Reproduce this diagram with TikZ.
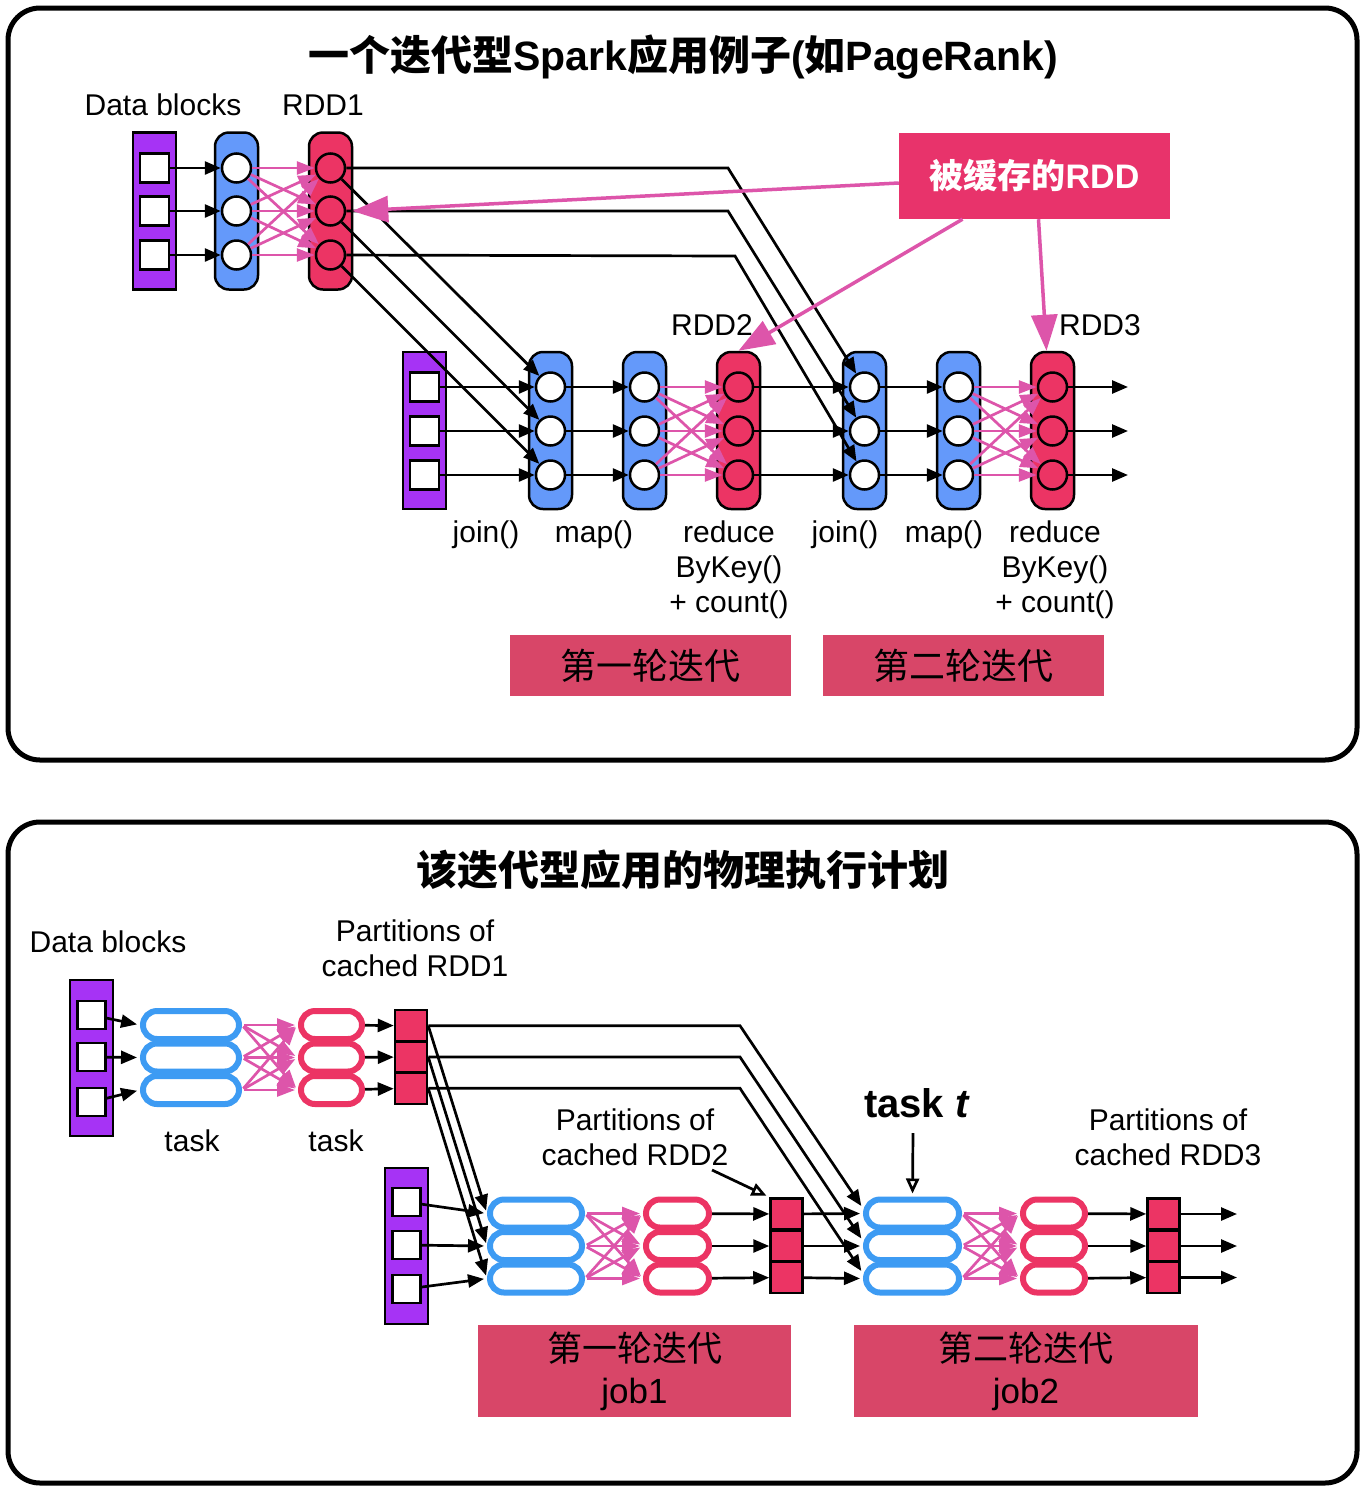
\documentclass[tikz,border=0pt]{standalone}
\usepackage{fontspec}
\setmainfont{Liberation Sans}
\newfontfamily\cjk{Noto Sans CJK SC}
\usetikzlibrary{arrows.meta}
\definecolor{dpurple}{RGB}{166,51,245}
\definecolor{cblue}{RGB}{100,153,250}
\definecolor{cred}{RGB}{236,52,100}
\definecolor{lbox}{RGB}{216,70,104}
\definecolor{cboxc}{RGB}{232,51,107}
\definecolor{pinkarr}{RGB}{221,85,170}
\definecolor{sblue}{RGB}{61,155,243}
\tikzset{
 txt/.style={inner sep=2pt, font=\fontsize{30}{35}\selectfont, align=center},
 colbox/.style={draw, line width=2.5pt, rounded corners=14pt, minimum width=43pt, minimum height=157pt, inner sep=0pt},
 datacol/.style={draw, line width=2.5pt, fill=dpurple, minimum width=43pt, minimum height=157pt, inner sep=0pt},
 sqbox/.style={draw, line width=2.5pt, fill=white, minimum size=29pt, inner sep=0pt},
 circ/.style={circle, draw, line width=2.5pt, fill=white, minimum size=29pt, inner sep=0pt},
 arr/.style={line width=2.7pt, -{Triangle[length=16pt,width=13pt]}},
 sarr/.style={arr, shorten >=3pt},
 parr/.style={draw=pinkarr, line width=2.7pt, -{Triangle[length=18pt,width=13pt]}},
 sparr/.style={parr, shorten >=3pt, shorten <=2pt},
 bigp/.style={draw=pinkarr, line width=3.5pt, -{Triangle[length=36pt,width=26pt]}},
 oarr/.style={line width=2.7pt, -{Triangle[open,length=15pt,width=13pt]}, shorten >=3pt},
 stad/.style={draw=sblue, line width=6pt, fill=white, rounded corners=14pt, minimum height=28pt, inner sep=0pt},
 cell/.style={draw, line width=2.5pt, fill=cred, minimum width=32pt, minimum height=31.3pt, inner sep=0pt},
 ibox/.style={fill=lbox, inner sep=0pt, align=center},
 panel/.style={line width=5pt, rounded corners=32pt},
}
\begin{document}
\begin{tikzpicture}[x=1pt,y=-1pt]
\useasboundingbox (0,0) rectangle (1366,1492);
\fill[white] (0,0) rectangle (1366,1492);
\draw[panel] (8,8) rectangle (1357,760);
\draw[panel] (8,822) rectangle (1357,1483);

% ================= TOP PANEL =================
\node[txt, font=\fontsize{41}{48}\selectfont\bfseries] (title1) at (683,57) {{\cjk 一个迭代型}Spark{\cjk 应用例子}({\cjk 如}PageRank)};
\node[txt] (ldb1) at (163,105) {Data blocks};
\node[txt] (lrdd1) at (323,105) {RDD1};

\node[datacol] (D0) at (154.5,211) {};
\foreach \i/\y in {1/168,2/211,3/255}{\node[sqbox] (D0s\i) at (154.5,\y) {};}
\node[colbox, fill=cblue] (A0) at (236.5,211) {};
\foreach \i/\y in {1/168,2/211,3/255}{\node[circ] (A0c\i) at (236.5,\y) {};}
\node[colbox, fill=cred] (R1) at (330.5,211) {};
\foreach \i/\y in {1/168,2/211,3/255}{\node[circ, fill=cred] (R1c\i) at (330.5,\y) {};}

\node[datacol] (D2) at (424.5,430.5) {};
\foreach \i/\y in {1/387,2/431,3/475}{\node[sqbox] (D2s\i) at (424.5,\y) {};}
\foreach \n/\x/\colfill/\cirfill in {J1/550.5/cblue/white, M1/644.5/cblue/white, R2/738.5/cred/cred, J2/864.5/cblue/white, M2/958.5/cblue/white, R3/1052.5/cred/cred}{
  \node[colbox, fill=\colfill] (\n) at (\x,430.5) {};
  \foreach \i/\y in {1/387,2/431,3/475}{\node[circ, fill=\cirfill] (\n c\i) at (\x,\y) {};}
}
\coordinate (out1) at (1128,387);
\coordinate (out2) at (1128,431);
\coordinate (out3) at (1128,475);

\foreach \i in {1,2,3}{
  \draw[arr] (D0s\i) -- (A0c\i);
  \draw[arr] (D2s\i) -- (J1c\i);
  \draw[arr] (J1c\i) -- (M1c\i);
  \draw[arr] (R2c\i) -- (J2c\i);
  \draw[arr] (J2c\i) -- (M2c\i);
  \draw[arr] (R3c\i) -- (out\i);
  \draw[arr] (R1c\i) -- (J1c\i);
  \foreach \j in {1,2,3}{
    \draw[parr] (A0c\i) -- (R1c\j);
    \draw[parr] (M1c\i) -- (R2c\j);
    \draw[parr] (M2c\i) -- (R3c\j);
  }
}
\draw[arr] (R1c1) -- (728,168) -- (J2c1);
\draw[arr] (R1c2) -- (728,211) -- (J2c2);
\draw[arr] (R1c3) -- (735,256) -- (J2c3);

\node[fill=cboxc, minimum width=271pt, minimum height=86pt, inner sep=0pt, text=white, font=\fontsize{34}{40}\selectfont\bfseries] (cache) at (1034.5,176) {{\cjk 被缓存的}RDD};
\draw[bigp] ([yshift=-7pt]cache.west) -- ([xshift=6pt]R1c2.east);
\draw[bigp] ([xshift=-72pt]cache.south) -- (R2.north);
\draw[bigp] ([xshift=4pt]cache.south) -- ([xshift=-6pt]R3.north);

\node[txt] (lrdd2) at (712,325) {RDD2};
\node[txt] (lrdd3) at (1100,325) {RDD3};

\node[txt] (lj1) at (486,535) {join()};
\node[txt] (lm1) at (594,535) {map()};
\node[txt] (lr1) at (729,570) {reduce\\ByKey()\\+ count()};
\node[txt] (lj2) at (845,535) {join()};
\node[txt] (lm2) at (944,535) {map()};
\node[txt] (lr2) at (1055,570) {reduce\\ByKey()\\+ count()};

\node[ibox, minimum width=281pt, minimum height=61pt, font=\fontsize{36}{42}\selectfont\cjk] (it1) at (650.5,665.5) {第一轮迭代};
\node[ibox, minimum width=281pt, minimum height=61pt, font=\fontsize{36}{42}\selectfont\cjk] (it2) at (963.5,665.5) {第二轮迭代};

% ================= BOTTOM PANEL =================
\node[txt, font=\fontsize{41}{48}\selectfont\bfseries\cjk] (title2) at (683,870) {该迭代型应用的物理执行计划};
\node[txt] (ldb2) at (108,942) {Data blocks};
\node[txt] (lp1) at (415,948) {Partitions of\\cached RDD1};

\node[datacol, minimum height=156pt] (E0) at (91.5,1058) {};
\foreach \i/\y in {1/1015,2/1057,3/1102}{\node[sqbox, minimum size=28pt] (E0s\i) at (91.5,\y) {};}
\foreach \i/\y in {1/1025,2/1057.5,3/1090}{\node[stad, minimum width=96pt] (B0s\i) at (191,\y) {};}
\foreach \i/\y in {1/1025,2/1057.5,3/1090}{\node[stad, draw=cred, minimum width=61pt] (C0s\i) at (331.5,\y) {};}
\foreach \i/\y in {1/1025.7,2/1057,3/1088.3}{\node[cell] (P1c\i) at (411,\y) {};}
\node[txt] (lt1) at (192,1141) {task};
\node[txt] (lt2) at (336,1141) {task};

\node[datacol, minimum height=156pt] (E1) at (406.5,1246) {};
\foreach \i/\y in {1/1202,2/1245,3/1289}{\node[sqbox, minimum size=28pt] (E1s\i) at (406.5,\y) {};}
\foreach \i/\y in {1/1213.5,2/1246,3/1278.5}{
  \node[stad, minimum width=92pt] (B1s\i) at (536,\y) {};
}
\foreach \i/\y in {1/1213.5,2/1246,3/1278.5}{
  \node[stad, draw=cred, minimum width=63pt] (C1s\i) at (677.5,\y) {};
}
\foreach \i/\y in {1/1214,2/1246,3/1277.5}{\node[cell] (P2c\i) at (786.5,\y) {};}
\foreach \i/\y in {1/1213.5,2/1246,3/1278.5}{
  \node[stad, minimum width=93pt] (B2s\i) at (912.5,\y) {};
}
\foreach \i/\y in {1/1213.5,2/1246,3/1278.5}{
  \node[stad, draw=cred, minimum width=62pt] (C2s\i) at (1054,\y) {};
}
\foreach \i/\y in {1/1214,2/1246,3/1277.5}{\node[cell] (P3c\i) at (1163.5,\y) {};}
\coordinate (bout1) at (1237,1214);
\coordinate (bout2) at (1237,1246);
\coordinate (bout3) at (1237,1277.5);

\foreach \i in {1,2,3}{
  \draw[sarr] (E0s\i) -- (B0s\i.west);
  \draw[arr] (C0s\i) -- (P1c\i);
  \draw[sarr] (E1s\i) -- (B1s\i.west);
  \draw[arr] (C1s\i) -- (P2c\i);
  \draw[sarr] (P2c\i) -- (B2s\i.west);
  \draw[arr] (C2s\i) -- (P3c\i);
  \draw[arr] (P3c\i) -- (bout\i);
  \draw[sarr] (P1c\i.east) -- (B1s\i.west);
  \foreach \j in {1,2,3}{
    \draw[sparr] (B0s\i.east) -- (C0s\j.west);
    \draw[sparr] (B1s\i.east) -- (C1s\j.west);
    \draw[sparr] (B2s\i.east) -- (C2s\j.west);
  }
}
\draw[sarr] (P1c1.east) -- (740,1025.7) -- ([yshift=5pt]B2s1.west);
\draw[sarr] (P1c2.east) -- (740,1057) -- ([yshift=5pt]B2s2.west);
\draw[sarr] (P1c3.east) -- (740,1088.3) -- ([yshift=5pt]B2s3.west);

\node[txt] (lp2) at (635,1137) {Partitions of\\cached RDD2};
\coordinate (lp2a) at (712,1170);
\draw[oarr] (lp2a) -- (P2c1.north west);
\node[txt, font=\fontsize{40}{46}\selectfont\bfseries] (taskt) at (917,1103) {task \textit{t}};
\coordinate (tta) at (913,1133);
\draw[oarr] (tta) -- (B2s1.north);
\node[txt] (lp3) at (1168,1137) {Partitions of\\cached RDD3};

\node[ibox, minimum width=313pt, minimum height=92pt, font=\fontsize{35}{42}\selectfont] (job1) at (634.5,1371) {{\cjk 第一轮迭代}\\job1};
\node[ibox, minimum width=344pt, minimum height=92pt, font=\fontsize{35}{42}\selectfont] (job2) at (1026,1371) {{\cjk 第二轮迭代}\\job2};
\end{tikzpicture}
\end{document}
